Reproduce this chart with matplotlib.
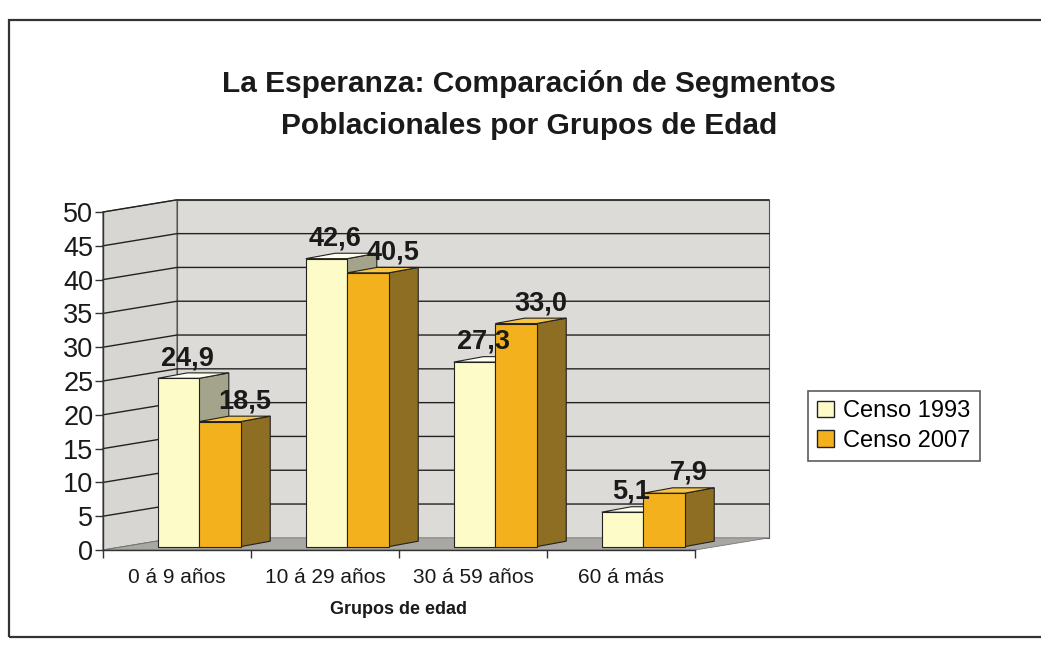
import matplotlib
matplotlib.use("Agg")
import matplotlib.pyplot as plt
from matplotlib.patches import Polygon, Rectangle
import numpy as np

plt.rcParams['font.family'] = ['Liberation Sans', 'DejaVu Sans']

categories = ["0 á 9 años", "10 á 29 años", "30 á 59 años", "60 á más"]
series_names = ["Censo 1993", "Censo 2007"]
censo_1993 = [24.9, 42.6, 27.3, 5.1]
censo_2007 = [18.5, 40.5, 33.0, 7.9]
value_labels_1993 = ["24,9", "42,6", "27,3", "5,1"]
value_labels_2007 = ["18,5", "40,5", "33,0", "7,9"]
y_ticks = [0, 5, 10, 15, 20, 25, 30, 35, 40, 45, 50]

front_cols = ["#fdfcc8", "#f3b11d"]
side_cols = ["#a4a48c", "#8e6e22"]
top_cols = ["#fffff0", "#f7c542"]

W, H = 1041, 645
fig = plt.figure(figsize=(W / 100, H / 100), dpi=100)
fig.patch.set_facecolor("white")

# outer border
fig.add_artist(Rectangle((9 / W, 1 - 637 / H), 1.2, (637 - 20) / H,
                         transform=fig.transFigure, fill=False,
                         edgecolor="#333333", lw=1.6))

ax = fig.add_axes([103 / W, (H - 550) / H, (695 - 103) / W, 338 / H])
ax.set_xlim(0, len(categories))
ax.set_ylim(0, 50)
ax.patch.set_alpha(0)

ncat = len(categories)
DX, DY = 0.5, 1.8  # wall depth offset (data units)
wall_col = "#dddbd7"

# back wall
ax.add_patch(Polygon([(DX, DY), (ncat + DX, DY), (ncat + DX, 50 + DY), (DX, 50 + DY)],
                     closed=True, facecolor=wall_col, edgecolor="#555555", lw=0.8,
                     clip_on=False, zorder=0))
# side wall
ax.add_patch(Polygon([(0, 0), (DX, DY), (DX, 50 + DY), (0, 50)],
                     closed=True, facecolor="#d8d6d2", edgecolor="#555555", lw=0.8,
                     clip_on=False, zorder=0))
# floor
ax.add_patch(Polygon([(0, 0), (ncat, 0), (ncat + DX, DY), (DX, DY)],
                     closed=True, facecolor="#a9a7a3", edgecolor="#777777", lw=0.6,
                     clip_on=False, zorder=0.5))
# gridlines
for v in y_ticks[1:]:
    ax.plot([0, DX, ncat + DX], [v, v + DY, v + DY], color="#222222", lw=1.0,
            clip_on=False, zorder=0.8)

# bars
bw = 0.28
bdx, bdy = 0.2, 0.8
sx, sy = (DX - bdx) / 2, (DY - bdy) / 2
series = [censo_1993, censo_2007]
labels = [value_labels_1993, value_labels_2007]
label_dx = [0.06, 0.17]
for i in range(ncat):
    for s in range(2):
        v = series[s][i]
        x0 = i + 0.5 - bw + s * bw + sx
        y0 = sy
        y1 = v + sy
        # side
        ax.add_patch(Polygon([(x0 + bw, y0), (x0 + bw + bdx, y0 + bdy),
                              (x0 + bw + bdx, y1 + bdy), (x0 + bw, y1)],
                             closed=True, facecolor=side_cols[s], edgecolor="#222222",
                             lw=0.8, zorder=2 + i * 4 + s * 2, clip_on=False))
        # top
        ax.add_patch(Polygon([(x0, y1), (x0 + bw, y1), (x0 + bw + bdx, y1 + bdy),
                              (x0 + bdx, y1 + bdy)],
                             closed=True, facecolor=top_cols[s], edgecolor="#222222",
                             lw=0.8, zorder=2 + i * 4 + s * 2, clip_on=False))
        # front
        ax.add_patch(Rectangle((x0, y0), bw, v, facecolor=front_cols[s],
                               edgecolor="#222222", lw=0.8,
                               zorder=3 + i * 4 + s * 2, clip_on=False))
        ax.text(x0 + bw / 2 + label_dx[s], y1 + 3.0, labels[s][i],
                ha="center", va="center", fontsize=19.5, fontweight="bold",
                color="#1a1a1a", zorder=30)

# axes styling
for sp in ["top", "right", "bottom"]:
    ax.spines[sp].set_visible(False)
ax.spines["left"].set_color("#333333")
ax.spines["left"].set_linewidth(1.0)
ax.plot([0, ncat], [0, 0], color="#333333", lw=1.0, clip_on=False, zorder=1)
ax.set_yticks(y_ticks)
ax.set_yticklabels([str(v) for v in y_ticks], fontsize=19.5, color="#1a1a1a")
ax.tick_params(axis="y", length=6, width=1, color="#333333", pad=1)
ax.set_xticks(np.arange(ncat) + 0.5)
ax.set_xticklabels(categories, fontsize=15, color="#1a1a1a")
ax.set_xticks(np.arange(0, ncat + 1), minor=True)
ax.tick_params(axis="x", which="major", length=0, pad=13)
ax.tick_params(axis="x", which="minor", length=6, width=1, color="#333333")
ax.set_xlabel("Grupos de edad", fontsize=13, fontweight="bold", labelpad=10,
              color="#1a1a1a")

fig.text(529 / W, 1 - 84 / H, "La Esperanza: Comparación de Segmentos",
         ha="center", va="center", fontsize=21.5, fontweight="bold", color="#1a1a1a")
fig.text(529 / W, 1 - 126 / H, "Poblacionales por Grupos de Edad",
         ha="center", va="center", fontsize=21.5, fontweight="bold", color="#1a1a1a")

# legend
handles = [Rectangle((0, 0), 1, 1, facecolor=front_cols[s], edgecolor="#222222", lw=1)
           for s in range(2)]
leg = fig.legend(handles, series_names, loc="center left",
                 bbox_to_anchor=(808 / W, 1 - 426 / H), fontsize=17,
                 frameon=True, fancybox=False, edgecolor="#333333",
                 handlelength=0.7, handleheight=0.7, handletextpad=0.4,
                 borderpad=0.4, labelspacing=0.3, borderaxespad=0)
leg.get_frame().set_linewidth(1.2)

fig.savefig("out.png", dpi=100)
